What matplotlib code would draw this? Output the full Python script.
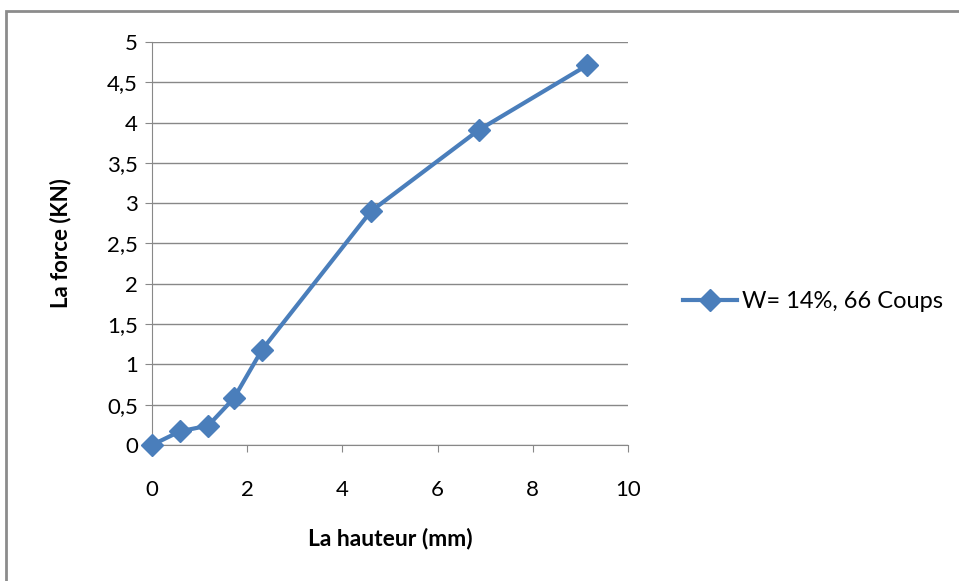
import numpy as np
import matplotlib.pyplot as plt
from matplotlib.patches import Rectangle

# force vs height curve
hauteur = [0, 0.59, 1.18, 1.72, 2.31, 4.6, 6.87, 9.14]
force = [0, 0.17, 0.24, 0.58, 1.18, 2.90, 3.91, 4.71]
serie = 'W= 14%, 66 Coups'

plt.rcParams['font.family'] = ['Lato', 'DejaVu Sans']

fig = plt.figure(figsize=(9.59, 5.81), dpi=100)
# outer chart frame
fig.patches.append(Rectangle((6 / 959, -0.1), 1.2, 0.981 + 0.1, transform=fig.transFigure,
                             fill=False, edgecolor='#8c8c8c', linewidth=2))

ax = fig.add_axes([0.1585, 0.2341, 0.4963, 0.6936])
ax.plot(hauteur, force, color='#4a7ebb', linewidth=3, marker='D', markersize=11,
        label=serie, zorder=3, clip_on=False)

ax.set_xlim(0, 10)
ax.set_ylim(0, 5)
ax.set_xticks(np.arange(0, 11, 2))
ax.set_yticks(np.arange(0, 5.01, 0.5))
ax.set_yticklabels([('%g' % v).replace('.', ',') for v in np.arange(0, 5.01, 0.5)])
ax.grid(axis='y', color='#888888', linewidth=1)
ax.set_axisbelow(True)
for s in ['top', 'right']:
    ax.spines[s].set_visible(False)
for s in ['left', 'bottom']:
    ax.spines[s].set_color('#888888')
ax.tick_params(colors='#888888', labelcolor='black', labelsize=16, length=5)
ax.tick_params(axis='x', pad=20)
ax.tick_params(axis='y', pad=5)

ax.set_xlabel('La hauteur (mm)', fontsize=16.5, fontweight='bold', labelpad=20)
ax.set_ylabel('La force (KN)', fontsize=16, fontweight='bold', labelpad=26)

ax.legend(loc='center left', bbox_to_anchor=(1.07, 0.355), frameon=False, fontsize=17,
          handlelength=2.3, handletextpad=0.2)

plt.savefig('out.png', dpi=100)
